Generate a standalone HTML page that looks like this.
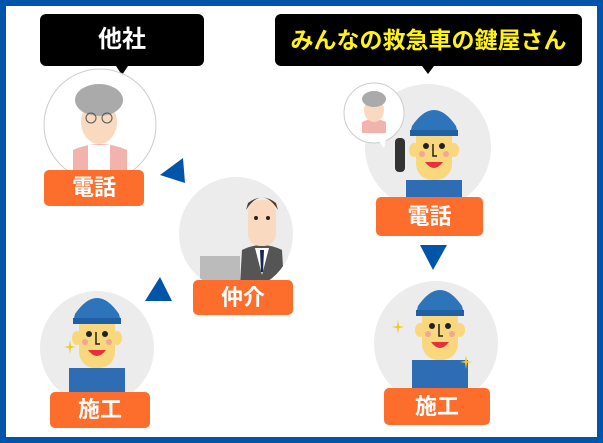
<!DOCTYPE html>
<html><head><meta charset="utf-8"><style>
html,body{margin:0;padding:0}
body{width:603px;height:443px;position:relative;overflow:hidden;background:#fff;font-family:"Liberation Sans","Noto Sans CJK JP",sans-serif}
.frame{position:absolute;left:0;top:0;width:591px;height:431px;border:6px solid #0055ab;background:#fff}
.lbl{position:absolute;background:#fd6d2b;color:#fff;font-weight:bold;font-size:22px;text-align:center;border-radius:5px}
.bub{position:absolute;background:#000;border-radius:6px;font-weight:bold;text-align:center}
svg{position:absolute;left:0;top:0}
</style></head><body>
<div class="frame"></div>
<svg width="603" height="443" viewBox="0 0 603 443">
<defs>
<g id="worker">
 <rect x="-28" y="38" width="56" height="40" fill="#2e6db3"/>
 <path d="M-28 45 L-20 38 L20 38 L28 45" fill="#2e6db3"/>
 <rect x="-18" y="-22" width="36" height="60" rx="16" fill="#f9d77d"/>
 <ellipse cx="-20" cy="8" rx="5" ry="7" fill="#f9d77d"/>
 <ellipse cx="20" cy="8" rx="5" ry="7" fill="#f9d77d"/>
 <path d="M-22 -16 Q0 -48 22 -16 L24 -8 L-24 -8 Z" fill="#2d74bb"/>
 <rect x="-24" y="-12" width="48" height="6" fill="#1f5fa3"/>
 <circle cx="-8" cy="4" r="3" fill="#222"/><circle cx="8" cy="4" r="3" fill="#222"/>
 <circle cx="-12" cy="12" r="3" fill="#f4a593"/><circle cx="12" cy="12" r="3" fill="#f4a593"/>
 <path d="M-1 2 L-1 14 L3 14" stroke="#222" stroke-width="1.5" fill="none"/>
 <path d="M-9 20 Q0 32 9 20 Z" fill="#e8303c"/>
</g>
<clipPath id="c1"><circle cx="97" cy="348" r="57"/></clipPath>
<clipPath id="c2"><circle cx="428" cy="147" r="63"/></clipPath>
<clipPath id="c3"><circle cx="436" cy="343" r="62"/></clipPath>
<clipPath id="c4"><circle cx="236" cy="234" r="57"/></clipPath>
<clipPath id="c5"><circle cx="100" cy="125" r="56"/></clipPath>
</defs>
<polygon points="116,66 128,66 122,75" fill="#000"/>
<polygon points="422,66 434,66 428,74" fill="#000"/>
<circle cx="100" cy="125" r="56" fill="#fff" stroke="#ccc" stroke-width="1"/>
<g clip-path="url(#c5)">
<path d="M73 175 L73 150 Q100 138 127 150 L127 175 Z" fill="#f2b3ad"/>
<rect x="88" y="145" width="22" height="30" fill="#fff"/>
<ellipse cx="99" cy="122" rx="18" ry="22" fill="#f9d9bf"/>
<ellipse cx="99" cy="100" rx="24" ry="16" fill="#aaa"/>
<circle cx="91" cy="118" r="5" fill="none" stroke="#555"/><circle cx="107" cy="118" r="5" fill="none" stroke="#555"/>
</g>
<polygon points="183,158 160,175 185,183" fill="#0055ab"/>
<polygon points="160,277 145,301 172,301" fill="#0055ab"/>
<polygon points="420,245 447,245 433,270" fill="#0055ab"/>
<circle cx="236" cy="234" r="57" fill="#ececec"/>
<g clip-path="url(#c4)">
<rect x="200" y="256" width="40" height="28" fill="#bbb"/>
<path d="M240 285 L242 250 Q262 240 282 250 L284 285 Z" fill="#555"/>
<polygon points="255,248 269,248 262,275" fill="#fff"/>
<polygon points="260,250 264,250 263,272 261,272" fill="#1b2455"/>
<rect x="248" y="200" width="28" height="46" rx="12" fill="#f9d9bf"/>
<path d="M246 210 Q262 185 278 210 L276 203 Q262 192 248 203 Z" fill="#5a3a26"/>
<circle cx="256" cy="218" r="2" fill="#222"/><circle cx="268" cy="218" r="2" fill="#222"/>
</g>
<circle cx="97" cy="348" r="57" fill="#ececec"/>
<g clip-path="url(#c1)"><g transform="translate(97,330)"><use href="#worker"/></g></g>
<path d="M70 340 l1 6 5 1 -5 1 -1 6 -1 -6 -5 -1 5 -1z" fill="#f3c816"/>
<circle cx="428" cy="147" r="63" fill="#ececec"/>
<g clip-path="url(#c2)"><g transform="translate(434,142)"><use href="#worker"/></g></g>
<rect x="395" y="138" width="10" height="34" rx="4" fill="#333"/>
<circle cx="374" cy="113" r="30" fill="#fff" stroke="#ccc"/>
<polygon points="378,140 386,140 384,148" fill="#fff"/>
<path d="M362 133 L362 122 Q374 116 386 122 L386 133 Z" fill="#f2b3ad"/>
<ellipse cx="374" cy="110" rx="10" ry="12" fill="#f9d9bf"/>
<ellipse cx="374" cy="99" rx="12" ry="8" fill="#aaa"/>
<circle cx="436" cy="343" r="62" fill="#ececec"/>
<g clip-path="url(#c3)"><g transform="translate(440,322)"><use href="#worker"/></g></g>
<path d="M398 320 l1 6 5 1 -5 1 -1 6 -1 -6 -5 -1 5 -1z" fill="#f3c816"/>
<path d="M466 355 l1 6 5 1 -5 1 -1 6 -1 -6 -5 -1 5 -1z" fill="#f3c816"/>
</svg>
<div class="bub" style="left:40px;top:14px;width:164px;height:52px;line-height:52px;color:#fff;font-size:24px">他社</div>
<div class="bub" style="left:275px;top:14px;width:307px;height:52px;line-height:52px;color:#fff21a;font-size:23px">みんなの救急車の鍵屋さん</div>
<div class="lbl" style="left:44px;top:170px;width:100px;height:36px;line-height:36px">電話</div>
<div class="lbl" style="left:193px;top:280px;width:100px;height:35px;line-height:35px">仲介</div>
<div class="lbl" style="left:50px;top:392px;width:100px;height:36px;line-height:36px">施工</div>
<div class="lbl" style="left:376px;top:197px;width:107px;height:39px;line-height:39px">電話</div>
<div class="lbl" style="left:384px;top:388px;width:106px;height:37px;line-height:37px">施工</div>
</body></html>
